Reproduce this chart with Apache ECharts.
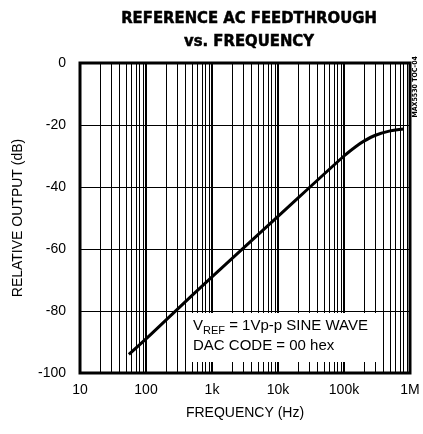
<!DOCTYPE html>
<html>
<head>
<meta charset="utf-8">
<script src="https://cdn.jsdelivr.net/npm/echarts@6/dist/echarts.min.js"></script>
<style>
  html, body { margin: 0; padding: 0; background: #fff; }
  #chart { width: 423px; height: 434px; }
</style>
</head>
<body>
<div id="chart"></div>
<script>
// frequency (Hz) and feedthrough (dB)
const freqHz = [55, 100, 250, 1000, 10000, 100000, 150000, 200000, 300000, 500000, 800000]
const outputDb = [-94, -89, -81, -69, -49.5, -30, -27, -25.2, -23.3, -21.9, -21.3]

// tick labels for the log axis
const freqTicks = { 10: '10', 100: '100', 1000: '1k', 10000: '10k', 100000: '100k', 1000000: '1M' }
const dbTicks = [0, -20, -40, -60, -80, -100]

// minor vertical grid: 2..9 in each decade
const decades = [10, 100, 1000, 10000, 100000]
const minorGrid = []
decades.forEach(d => {
  for (let m = 2; m <= 9; m++) minorGrid.push(d * m)
})

const chart = echarts.init(document.getElementById('chart'))

const font = 'Liberation Sans, Arial, sans-serif'

chart.setOption({
  animation: false,
  title: {
    text: 'REFERENCE AC FEEDTHROUGH\nvs. FREQUENCY',
    left: 244,
    textAlign: 'center',
    top: 2,
    textStyle: {
      fontFamily: 'DejaVu Sans Condensed, DejaVu Sans, sans-serif',
      fontWeight: 'bold',
      fontSize: 16.5,
      lineHeight: 23,
      color: '#000',
      textBorderColor: '#000',
      textBorderWidth: 0.5
    }
  },
  grid: {
    left: 80,
    right: 13,
    top: 63,
    bottom: 61,
    show: true,
    borderColor: '#000',
    borderWidth: 3,
    backgroundColor: 'transparent'
  },
  xAxis: {
    type: 'log',
    logBase: 10,
    min: 10,
    max: 1000000,
    name: 'FREQUENCY (Hz)',
    nameLocation: 'middle',
    nameGap: 33,
    nameTextStyle: { fontFamily: font, fontSize: 14, color: '#000' },
    axisLine: { show: false },
    axisTick: { show: false },
    axisLabel: {
      margin: 10,
      fontFamily: font,
      fontSize: 14,
      color: '#000',
      formatter: v => freqTicks[Math.round(v)] || ''
    },
    splitLine: { show: true, lineStyle: { color: '#000', width: 2 } }
  },
  yAxis: {
    type: 'value',
    min: -100,
    max: 0,
    interval: 20,
    name: 'RELATIVE OUTPUT (dB)',
    nameLocation: 'middle',
    nameGap: 55,
    nameTextStyle: { fontFamily: font, fontSize: 14, color: '#000' },
    axisLine: { show: false },
    axisTick: { show: false },
    axisLabel: {
      margin: 14,
      fontFamily: font,
      fontSize: 14,
      color: '#000',
      formatter: v => dbTicks.includes(v) ? String(v) : ''
    },
    splitLine: { show: true, lineStyle: { color: '#000', width: 1 } }
  },
  series: [
    {
      type: 'line',
      data: [],
      silent: true,
      markLine: {
        silent: true,
        symbol: 'none',
        label: { show: false },
        lineStyle: { color: '#000', width: 1, type: 'solid' },
        data: minorGrid.map(f => ({ xAxis: f }))
      }
    },
    {
      type: 'line',
      data: freqHz.map((f, i) => [f, outputDb[i]]),
      smooth: 0.3,
      showSymbol: false,
      lineStyle: { color: '#000', width: 3 },
      z: 5
    }
  ],
  graphic: [
    {
      type: 'rect',
      left: 187,
      top: 313,
      shape: { width: 194, height: 49 },
      style: { fill: '#fff' },
      z: 10
    },
    {
      type: 'text',
      left: 193,
      top: 318,
      z: 11,
      style: {
        text: '{a|V}{b|REF}{a| = 1Vp-p SINE WAVE}\n{a|DAC CODE = 00 hex}',
        rich: {
          a: { fontFamily: font, fontSize: 15, color: '#000', lineHeight: 20, verticalAlign: 'bottom' },
          b: { fontFamily: font, fontSize: 11, color: '#000', lineHeight: 20, verticalAlign: 'bottom', padding: [0, 0, -3, 0] }
        }
      }
    },
    {
      type: 'text',
      left: 412,
      top: 56,
      rotation: Math.PI / 2,
      z: 11,
      style: {
        text: 'MAX5530 TOC-04',
        fontFamily: 'DejaVu Sans Condensed, sans-serif',
        fontWeight: 'bold',
        fontSize: 7,
        fill: '#000'
      }
    }
  ]
})
</script>
</body>
</html>
